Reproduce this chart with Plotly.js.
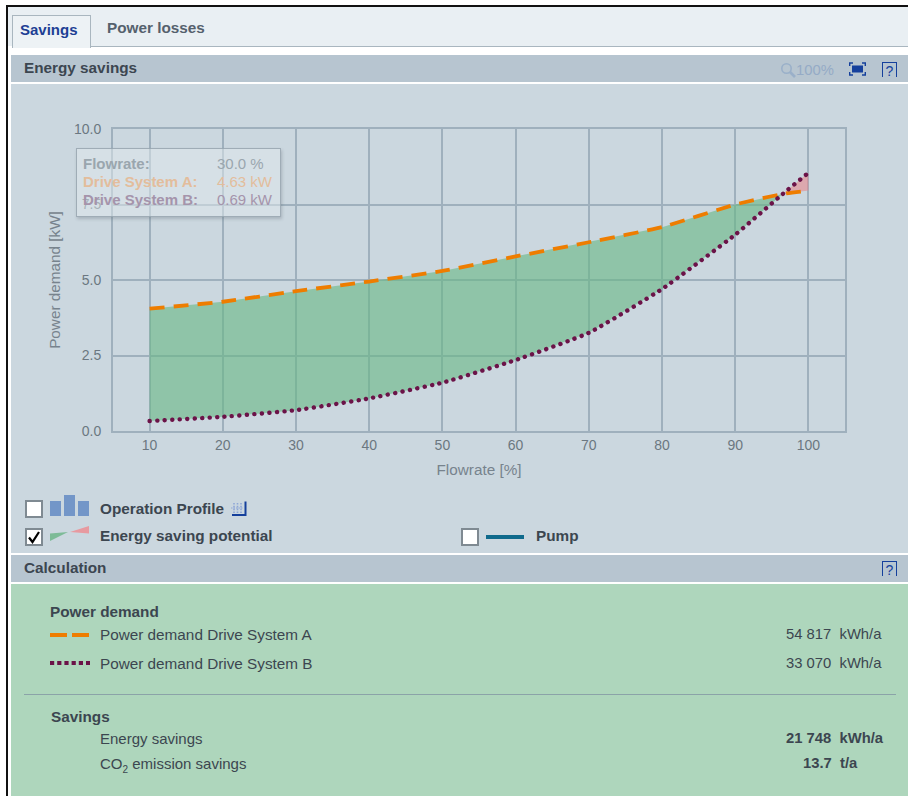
<!DOCTYPE html>
<html><head><meta charset="utf-8">
<script src="https://cdn.plot.ly/plotly-3.0.1.min.js"></script>
<style>
html,body{margin:0;padding:0;background:#fff;width:908px;height:796px;overflow:hidden;font-family:"Liberation Sans",Arial,sans-serif;color:#3c4650}
#frame{position:absolute;left:6px;top:5px;width:902px;height:791px;border-left:2px solid #111;border-top:2px solid #111;background:#fff}
.abs{position:absolute;white-space:nowrap;font-size:15.3px}
.val{font-size:14.8px}
.box{position:absolute}
.b{font-weight:bold}
.cb{position:absolute;width:14px;height:14px;background:#fff;border:2px solid #7f8a92}
#plot{position:absolute;left:0;top:84px;width:908px;height:400px}
.scatterlayer .trace:last-child .js-line{stroke-linecap:round}
#tip{position:absolute;left:76px;top:148px;width:203px;height:67px;background:rgba(225,233,238,.5);border:1px solid rgba(140,155,165,.75);box-shadow:1px 2px 3px rgba(90,100,110,.3);font-size:15px}
#tip div{position:absolute;white-space:nowrap;font-weight:bold}
</style></head><body>
<div id="frame"></div>
<div class="box" style="left:8px;top:7px;width:900px;height:39px;background:#e9eff3"></div>
<div class="box" style="left:12px;top:46px;width:896px;height:1px;background:#a9b6bf"></div>
<div class="box" style="left:12px;top:15px;width:77px;height:32px;background:#edf2f5;border:1px solid #a9b6bf;border-bottom:none"></div>
<div class="abs b" style="left:20px;top:21px;color:#1d3f94;font-size:15px">Savings</div>
<div class="abs b" style="left:107px;top:19px;color:#55616d">Power losses</div>
<div class="box" style="left:11px;top:55px;width:897px;height:27px;background:#b7c5d0"></div>
<div class="box" style="left:11px;top:84px;width:897px;height:469px;background:#cbd7df"></div>
<div class="abs b" style="left:24px;top:59px">Energy savings</div>
<svg class="box" style="left:780px;top:62px" width="16" height="17"><circle cx="6.5" cy="6.5" r="4.7" fill="none" stroke="#9ab0c9" stroke-width="1.6"/><line x1="10" y1="10" x2="15" y2="15" stroke="#9ab0c9" stroke-width="2.6"/></svg>
<div class="abs val" style="left:796px;top:62px;color:#95abc6">100%</div>
<svg class="box" style="left:849px;top:62px" width="17" height="14"><rect x="3" y="3.5" width="11" height="7" fill="#15409c"/><path d="M0.7 4V1H4M13 1H16.3V4M16.3 10V13H13M4 13H0.7V10" fill="none" stroke="#15409c" stroke-width="1.4"/></svg>
<div class="abs" style="left:882px;top:62px;width:13px;height:14px;border:1px solid #15409c;border-bottom:none;font-size:14px;line-height:16px;text-align:center;color:#15409c">?</div>

<div id="plot"></div>

<div id="tip">
<div style="left:6px;top:6px;color:#9aa6ae">Flowrate:</div><div style="left:140px;top:6px;color:#9aa6ae;font-weight:normal">30.0 %</div>
<div style="left:6px;top:24px;color:#e3bd9c">Drive System A:</div><div style="left:140px;top:24px;color:#e3bd9c;font-weight:normal">4.63 kW</div>
<div style="left:6px;top:42px;color:#a594ab">Drive System B:</div><div style="left:140px;top:42px;color:#a594ab;font-weight:normal">0.69 kW</div>
</div>

<div class="cb" style="left:25px;top:500px"></div>
<div class="box" style="left:50px;top:501px;width:10.5px;height:15px;background:#7396c8"></div>
<div class="box" style="left:64px;top:495px;width:10.5px;height:21px;background:#7396c8"></div>
<div class="box" style="left:78px;top:501px;width:10.5px;height:15px;background:#7396c8"></div>
<div class="abs b" style="left:100px;top:500px">Operation Profile</div>
<svg class="box" style="left:231px;top:500px" width="16" height="17"><path d="M3 3V13M6.5 3V13M10 3V13" stroke="#8fa7d6" stroke-width="1.6" stroke-dasharray="1.6 1.2"/><path d="M0 8H12" stroke="#8fa7d6" stroke-width="1" stroke-dasharray="1.5 1"/><path d="M1 15H14.5V1.5" fill="none" stroke="#15409c" stroke-width="2"/></svg>
<div class="cb" style="left:25px;top:528px"></div>
<svg class="box" style="left:25px;top:528px" width="18" height="18"><path d="M4 9.5L7.5 14L14 4" fill="none" stroke="#000" stroke-width="2.2"/></svg>
<svg class="box" style="left:50px;top:525px" width="40" height="18"><polygon points="0,8.5 18,7 0,16" fill="#7dbb97"/><polygon points="20,7 39,1 39,8.5" fill="#e79aa0"/></svg>
<div class="abs b" style="left:100px;top:527px">Energy saving potential</div>
<div class="cb" style="left:461px;top:528px"></div>
<div class="box" style="left:486px;top:535px;width:38px;height:3.5px;background:#0f6a8c"></div>
<div class="abs b" style="left:536px;top:527px">Pump</div>

<div class="box" style="left:11px;top:555px;width:897px;height:27px;background:#b7c5d0"></div>
<div class="abs b" style="left:24px;top:559px">Calculation</div>
<div class="abs" style="left:882px;top:561px;width:13px;height:14px;border:1px solid #15409c;border-bottom:none;font-size:14px;line-height:16px;text-align:center;color:#15409c">?</div>

<div class="box" style="left:11px;top:584px;width:897px;height:212px;background:#aed6bc"></div>
<div class="abs b" style="left:50px;top:603px">Power demand</div>
<div class="box" style="left:50px;top:633px;width:17px;height:4px;background:#ee7d00"></div>
<div class="box" style="left:72px;top:633px;width:17px;height:4px;background:#ee7d00"></div>
<div class="abs" style="left:100px;top:626px">Power demand Drive System A</div>
<div class="abs val" style="left:786px;top:626px">54 817&nbsp; kWh/a</div>
<svg class="box" style="left:50px;top:660px" width="40" height="6"><line x1="0" x2="40" y1="3" y2="3" stroke="#6b1348" stroke-width="4" stroke-dasharray="4.2 3"/></svg>
<div class="abs" style="left:100px;top:655px">Power demand Drive System B</div>
<div class="abs val" style="left:786px;top:655px">33 070&nbsp; kWh/a</div>
<div class="box" style="left:24px;top:694px;width:872px;height:1px;background:#8ba3a8"></div>
<div class="abs b" style="left:51px;top:708px">Savings</div>
<div class="abs" style="left:100px;top:730px;font-size:15px">Energy savings</div>
<div class="abs b val" style="left:786px;top:730px">21 748&nbsp; kWh/a</div>
<div class="abs" style="left:100px;top:755px;font-size:15px">CO<sub style="font-size:10px;line-height:0">2</sub> emission savings</div>
<div class="abs b val" style="left:803px;top:755px">13.7&nbsp; t/a</div>

<script>
const flowrate = [10, 20, 30, 40, 50, 60, 70, 80, 90, 96.5, 100];
const driveA   = [4.05, 4.28, 4.63, 4.95, 5.30, 5.78, 6.25, 6.75, 7.50, 7.85, 7.96];
const driveB   = [0.33, 0.47, 0.69, 1.08, 1.60, 2.35, 3.25, 4.70, 6.50, 7.85, 8.55];
const xTicks = [10, 20, 30, 40, 50, 60, 70, 80, 90, 100];
const yTicks = [0, 2.5, 5, 7.5, 10];
const yLabels = ['0.0', '2.5', '5.0', '7.5', '10.0'];

const crossing = flowrate.indexOf(96.5);
const noLine = {width: 0};
const traces = [
  {x: flowrate.slice(0, crossing + 1), y: driveB.slice(0, crossing + 1), mode: 'lines', line: noLine, hoverinfo: 'skip'},
  {x: flowrate.slice(0, crossing + 1), y: driveA.slice(0, crossing + 1), mode: 'lines', line: noLine, fill: 'tonexty', fillcolor: 'rgba(103,183,132,.6)', hoverinfo: 'skip'},
  {x: flowrate.slice(crossing), y: driveA.slice(crossing), mode: 'lines', line: noLine, hoverinfo: 'skip'},
  {x: flowrate.slice(crossing), y: driveB.slice(crossing), mode: 'lines', line: noLine, fill: 'tonexty', fillcolor: 'rgba(232,137,142,.6)', hoverinfo: 'skip'},
  {x: flowrate, y: driveA, name: 'Drive System A', mode: 'lines', line: {color: '#ee7d00', width: 3.8, dash: '15px,9px', shape: 'spline', smoothing: 0.4}},
  {x: flowrate, y: driveB, name: 'Drive System B', mode: 'lines', line: {color: '#6b1348', width: 4.4, dash: '0.1px,7.4px', shape: 'spline', smoothing: 0.4}}
];
const axisFont = {family: '"Liberation Sans", Arial, sans-serif', size: 14, color: '#6b7781'};
const titleFont = {family: '"Liberation Sans", Arial, sans-serif', size: 15.3, color: '#77838d'};
const layout = {
  width: 908, height: 400,
  margin: {l: 113, r: 63, t: 44.5, b: 52.5},
  paper_bgcolor: 'rgba(0,0,0,0)', plot_bgcolor: 'rgba(0,0,0,0)',
  showlegend: false,
  xaxis: {range: [5, 105], tickvals: xTicks, ticktext: xTicks.map(String), gridcolor: '#9fb0bd', gridwidth: 2, zeroline: false,
    showline: true, mirror: true, linecolor: '#9fb0bd', linewidth: 2, tickfont: axisFont, ticks: '', fixedrange: true,
    title: {text: 'Flowrate [%]', font: titleFont, standoff: 12}},
  yaxis: {range: [0, 10], tickvals: yTicks, ticktext: yLabels, gridcolor: '#9fb0bd', gridwidth: 2, zeroline: false,
    showline: true, mirror: true, linecolor: '#9fb0bd', linewidth: 2, tickfont: axisFont, ticks: '', ticklabelstandoff: 7, fixedrange: true,
    title: {text: 'Power demand [kW]', font: titleFont, standoff: 10}}
};
Plotly.newPlot('plot', traces, layout, {displayModeBar: false, staticPlot: true});
</script>
</body></html>
